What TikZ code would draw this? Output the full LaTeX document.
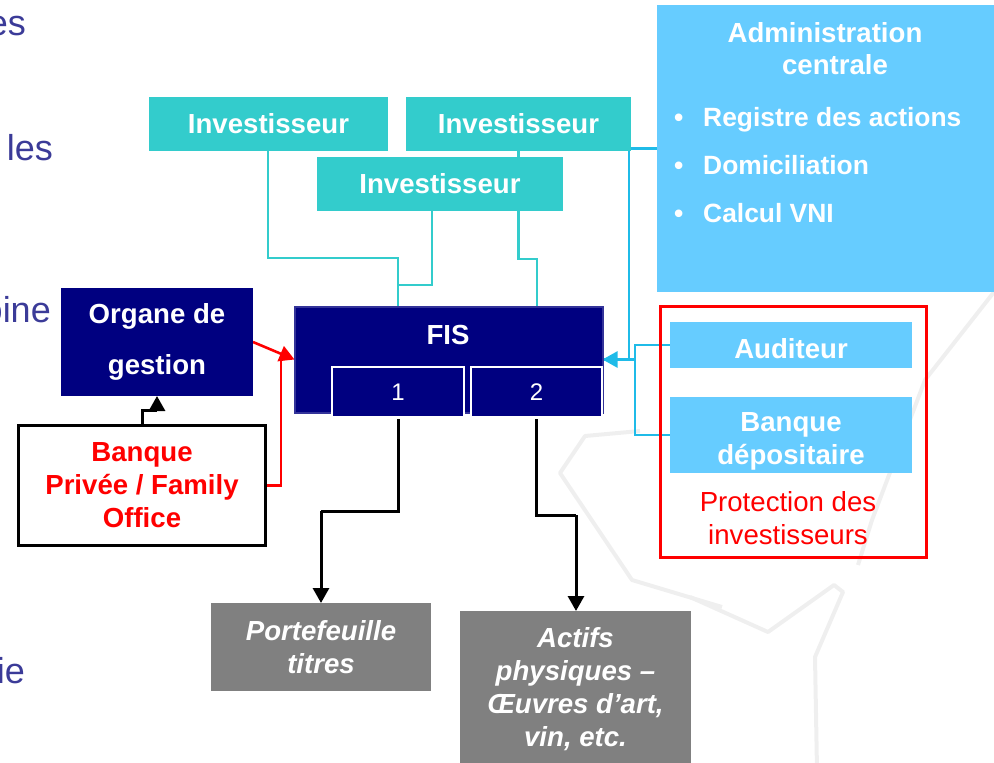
\documentclass[tikz,border=0pt]{standalone}
\usepackage{fontspec}
\setmainfont{Liberation Sans}
\usetikzlibrary{arrows.meta}
\pgfdeclarelayer{bg}
\pgfdeclarelayer{wm}
\pgfsetlayers{wm,bg,main}
\definecolor{tealc}{HTML}{33CCCC}
\definecolor{navyc}{HTML}{000080}
\definecolor{navyb}{HTML}{333399}
\definecolor{lbluec}{HTML}{66CCFF}
\definecolor{cyanc}{HTML}{1FBBE8}
\definecolor{greyc}{HTML}{808080}
\definecolor{slidec}{HTML}{3B3B98}
\definecolor{wmc}{HTML}{EFEFEF}
\begin{document}
\begin{tikzpicture}[x=1pt,y=-1pt,
  base/.style={rectangle, inner sep=0pt, outer sep=0pt, align=center},
  bigtxt/.style={font=\bfseries\fontsize{27.6}{33}\selectfont, text=white},
  invbox/.style={base, fill=tealc, bigtxt, minimum height=54},
  navybox/.style={base, fill=navyc, bigtxt},
  subbox/.style={base, fill=navyc, draw=white, line width=1.5pt, text=white, font=\fontsize{24}{28}\selectfont, minimum width=131, minimum height=50},
  lbbox/.style={base, fill=lbluec},
  greybox/.style={base, fill=greyc, text=white, font=\bfseries\itshape\fontsize{27.6}{33}\selectfont},
  slidetxt/.style={anchor=base east, inner sep=0pt, text=slidec, font=\fontsize{36}{40}\selectfont},
  admtxt/.style={inner sep=0pt, text=white, font=\bfseries\fontsize{26.4}{32}\selectfont},
  tip/.style={-{Triangle[width=16pt,length=15pt]}},
  tealline/.style={draw=tealc, line width=2.6pt},
  cyanline/.style={draw=cyanc, line width=2.6pt},
  redline/.style={draw=red, line width=2.6pt},
  blackline/.style={draw=black, line width=3pt},
]
\useasboundingbox (0,0) rectangle (994,763);
\clip (0,0) rectangle (994,763);

% watermark
\begin{pgfonlayer}{wm}
\draw[wmc, line width=4pt, line join=round] (640,431) -- (585,436) -- (560,473) -- (632,580) -- (722,607);
\draw[wmc, line width=4pt, line join=round] (690,597) -- (768,632) -- (834,585) -- (843,592) -- (815,657) -- (817,770);
\draw[wmc, line width=4pt, line join=round] (994,292) -- (925,380) -- (872,520) -- (858,565);
\end{pgfonlayer}

% slide text fragments
\node[slidetxt] (t1) at (26,35) {es};
\node[slidetxt] (t2) at (53,160) {les};
\node[slidetxt] (t3) at (51,322) {oine};
\node[slidetxt] (t4) at (25,683) {ie};

% investors
\node[invbox, minimum width=239] (inv1) at (268.5,124) {Investisseur};
\node[invbox, minimum width=225] (inv3) at (518.5,124) {Investisseur};
\node[invbox, minimum width=246] (inv2) at (440,184) {Investisseur};

% administration centrale
\node[lbbox, minimum width=345, minimum height=287] (admin) at (829.5,148.5) {};
\node[admtxt, font=\bfseries\fontsize{27.6}{33}\selectfont] (a1) at (825,33) {Administration};
\node[admtxt, font=\bfseries\fontsize{27.6}{33}\selectfont] (a2) at (835,64.5) {centrale};
\node[admtxt, anchor=base west] (bu1) at (674,126.5) {•};
\node[admtxt, anchor=base west] (bu2) at (674,174.5) {•};
\node[admtxt, anchor=base west] (bu3) at (674,222.5) {•};
\node[admtxt, anchor=base west] (r1) at (703,126.5) {Registre des actions};
\node[admtxt, anchor=base west] (r2) at (703,174.5) {Domiciliation};
\node[admtxt, anchor=base west] (r3) at (703,222.5) {Calcul VNI};

% FIS
\node[base, fill=navyc, draw=navyb, line width=2pt, minimum width=308, minimum height=106] (fis) at (448.5,359.5) {};
\node[bigtxt, inner sep=0pt] (fist) at (448,335) {FIS};
\node[subbox, minimum width=132] (s1) at (398,392) {1};
\node[subbox] (s2) at (536.5,392) {2};

% organe de gestion
\node[navybox, minimum width=192, minimum height=108, font=\bfseries\fontsize{27.6}{51}\selectfont] (org) at (157,342) {Organe de\\gestion};

% banque privee
\node[base, draw=black, line width=2.8pt, fill=white, minimum width=247, minimum height=120, text=red, font=\bfseries\fontsize{27.6}{33}\selectfont] (bp) at (142,485.5) {Banque\\Priv\'ee / Family\\Office};

% protection box
\node[base, draw=red, line width=2.2pt, minimum width=266, minimum height=251] (prot) at (793.5,432) {};
\node[lbbox, minimum width=242, minimum height=46] (aud) at (791,345) {};
\node[bigtxt, inner sep=0pt] (audt) at (791,348.5) {Auditeur};
\node[lbbox, minimum width=242, minimum height=76] (bd) at (791,435) {};
\node[bigtxt, inner sep=0pt, align=center] (bdt) at (791,441) {Banque\\d\'epositaire};
\node[inner sep=0pt, align=center, text=red, font=\fontsize{27.6}{33}\selectfont] (prt) at (788,518) {Protection des\\investisseurs};

% asset boxes
\node[greybox, minimum width=220, minimum height=88] (pf) at (321,647) {Portefeuille\\titres};
\node[greybox, minimum width=231, minimum height=156] (act) at (575.5,689) {Actifs\\physiques –\\Œuvres d’art,\\vin, etc.};

% junction coordinates
\coordinate (j1) at (398,258);
\coordinate (j2) at (398,285);
\coordinate (j3) at (537,259);
\coordinate (c1) at (629,148.5);
\coordinate (c2) at (635,390);
\coordinate (c3) at (635,359.5);
\coordinate (c4) at (281,361);
\coordinate (c5) at (157,410);
\coordinate (c6) at (321,511);
\coordinate (c7) at (576,515);

\begin{pgfonlayer}{bg}
% teal connectors
\draw[tealline, tip] ([xshift=-0.5pt]inv1.south) |- (j1) -- (s1.north);
\draw[tealline] ([xshift=-8pt]inv2.south) |- (j2);
\draw[tealline, tip] (inv3.south) |- (j3) -- (s2.north -| j3);
% cyan connectors
\draw[cyanline, tip] (admin.west) -- (c1) |- (fis.east);
\draw[cyanline] (aud.west) -| (c2) |- (bd.west);
\draw[cyanline] (c3) -- (fis.east);
% red connectors
\draw[redline, tip] (org.east) -- (fis.west);
\draw[redline] (bp.east) -| (c4);
% black connectors
\draw[blackline] (bp.north) |- (c5);
\draw[blackline, tip] (c5) -- (org.south);
\draw[blackline] ([yshift=-2pt]s1.south) |- (c6);
\draw[blackline, tip] (c6) -- (pf.north);
\draw[blackline] ([yshift=-2pt]s2.south) |- (c7);
\draw[blackline, tip] (c7) -- (act.north -| c7);
\end{pgfonlayer}
\end{tikzpicture}
\end{document}
